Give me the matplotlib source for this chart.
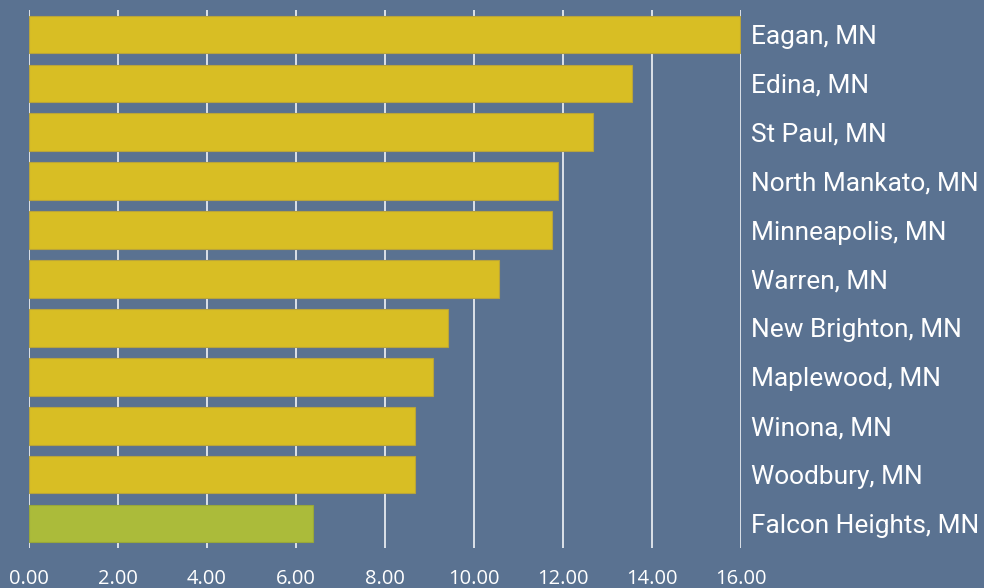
import matplotlib
matplotlib.use("Agg")
import matplotlib.pyplot as plt

cities = ["Eagan, MN", "Edina, MN", "St Paul, MN", "North Mankato, MN",
          "Minneapolis, MN", "Warren, MN", "New Brighton, MN", "Maplewood, MN",
          "Winona, MN", "Woodbury, MN", "Falcon Heights, MN"]
values = [15.98, 13.55, 12.67, 11.89, 11.77, 10.56, 9.42, 9.08, 8.69, 8.68, 6.38]
highlight = "Falcon Heights, MN"
xticks = [0, 2, 4, 6, 8, 10, 12, 14, 16]

BG = "#5A7291"
YELLOW = "#D8BE24"
GREEN = "#ABBB3A"

fig = plt.figure(figsize=(9.84, 5.88), dpi=100, facecolor=BG)
ax = fig.add_axes([28.7/984, 1-548/588, 712/984, 538/588])
ax.set_facecolor(BG)

colors = [GREEN if c == highlight else YELLOW for c in cities]
edges = ["#98A73A" if c == highlight else "#B9A43A" for c in cities]
ypos = list(range(len(cities)))
ax.barh(ypos, values, height=0.77, color=colors, edgecolor=edges, linewidth=0.8, zorder=3)

ax.set_ylim(len(cities) - 0.5, -0.5)
ax.set_xlim(0, 16)
ax.set_xticks(xticks)
ax.set_xticklabels([f"{v:.2f}" for v in xticks], fontfamily="Open Sans", fontsize=14.5, color="white")
ax.tick_params(axis="x", length=0, pad=15)
ax.set_yticks(ypos)
ax.set_yticklabels(cities, fontfamily="Roboto", fontsize=18.9, color="white")
ax.yaxis.tick_right()
ax.tick_params(axis="y", length=0, pad=7.4)

ax.grid(axis="x", color="#E6EAF0", linewidth=1.3, zorder=0)
ax.grid(axis="y", visible=False)
for s in ax.spines.values():
    s.set_visible(False)

fig.savefig("out.png", dpi=100, facecolor=BG)
